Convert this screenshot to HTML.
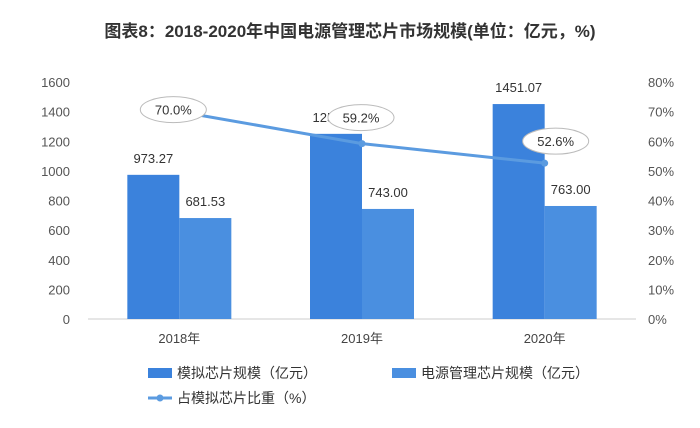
<!DOCTYPE html>
<html><head><meta charset="utf-8"><style>
body{margin:0;background:#fff;width:700px;height:423px;overflow:hidden}
text{font-family:"Liberation Sans","Noto Sans CJK SC",sans-serif}
</style></head><body>
<svg id="c" width="700" height="423" xmlns="http://www.w3.org/2000/svg">
<text x="350" y="37" text-anchor="middle" font-size="17" font-weight="bold" fill="#333">图表8：2018-2020年中国电源管理芯片市场规模(单位：亿元，%)</text>
<g id="g"></g>
</svg>
<script>
const categories=["2018年","2019年","2020年"];
const analogValues=[973.27,1250.00,1451.07];
const analogLabels=["973.27","1250.00","1451.07"];
const powerValues=[681.53,743.00,763.00];
const powerLabels=["681.53","743.00","763.00"];
const shareValues=[70.0,59.2,52.6];
const shareLabels=["70.0%","59.2%","52.6%"];
const leftTicks=[0,200,400,600,800,1000,1200,1400,1600];
const rightTicks=[0,10,20,30,40,50,60,70,80];
const NS="http://www.w3.org/2000/svg",g=document.getElementById("g");
const y0=319,y1=82,xL=88,xR=636;
const yL=v=>y0-(v/1600)*(y0-y1);
const yR=v=>y0-(v/80)*(y0-y1);
const step=(xR-xL)/categories.length;
const xC=i=>xL+step*(i+0.5);
function el(t,a,txt){const e=document.createElementNS(NS,t);for(const k in a)e.setAttribute(k,a[k]);if(txt!=null)e.textContent=txt;g.appendChild(e);return e;}
leftTicks.forEach(v=>{const e=el("text",{x:70,y:yL(v)+5,"text-anchor":"end","font-size":13,fill:"#555"},v);
});
rightTicks.forEach(v=>{const e=el("text",{x:648,y:yR(v)+5,"font-size":13,fill:"#555"},v+"%");
});
const ax=el("line",{x1:xL,x2:xR,y1:y0,y2:y0,stroke:"#ccc"});

const bw=52;
categories.forEach((c,i)=>{
 const cx=xC(i);
 const b1=el("rect",{x:cx-bw,y:yL(analogValues[i]),width:bw,height:y0-yL(analogValues[i]),fill:"#3b82dc"});
 
 const b2=el("rect",{x:cx,y:yL(powerValues[i]),width:bw,height:y0-yL(powerValues[i]),fill:"#4a8fe0"});
 
 const l1=el("text",{x:cx-bw/2,y:yL(analogValues[i])-12,"text-anchor":"middle","font-size":13,fill:"#333"},analogLabels[i]);
 
 const l2=el("text",{x:cx+bw/2,y:yL(powerValues[i])-12,"text-anchor":"middle","font-size":13,fill:"#333"},powerLabels[i]);
 
 const xl=el("text",{x:cx,y:343,"text-anchor":"middle","font-size":13,fill:"#444"},c);
 
});
const pts=shareValues.map((v,i)=>xC(i)+","+yR(v)).join(" ");
const ln=el("polyline",{points:pts,fill:"none",stroke:"#5b9be0","stroke-width":3});

shareValues.forEach((v,i)=>{const m=el("circle",{cx:xC(i),cy:yR(v),r:3.5,fill:"#5b9be0"});
});
const off=[[-6,-2],[-1,-26],[11,-22]];
shareValues.forEach((v,i)=>{const cx=xC(i)+off[i][0],cy=yR(v)+off[i][1];
 const e=el("ellipse",{cx:cx,cy:cy,rx:33,ry:13,fill:"#fff",stroke:"#bbb"});
 
 const t=el("text",{x:cx,y:cy+5,"text-anchor":"middle","font-size":13,fill:"#333"},shareLabels[i]);
 });
const lg=[["rect","#3b82dc",148,373,"模拟芯片规模（亿元）"],["rect","#4a8fe0",392,373,"电源管理芯片规模（亿元）"],["line","#5b9be0",148,398,"占模拟芯片比重（%）"]];
lg.forEach(d=>{
 let s;
 if(d[0]=="rect"){s=el("rect",{x:d[2],y:d[3]-5,width:24,height:10,fill:d[1]});}
 else{s=el("line",{x1:d[2],x2:d[2]+24,y1:d[3],y2:d[3],stroke:d[1],"stroke-width":3});el("circle",{cx:d[2]+12,cy:d[3],r:3.5,fill:d[1]});}
 
 const t=el("text",{x:d[2]+29,y:d[3]+5,"font-size":14,fill:"#333"},d[4]);
 
});
</script>
</body></html>
